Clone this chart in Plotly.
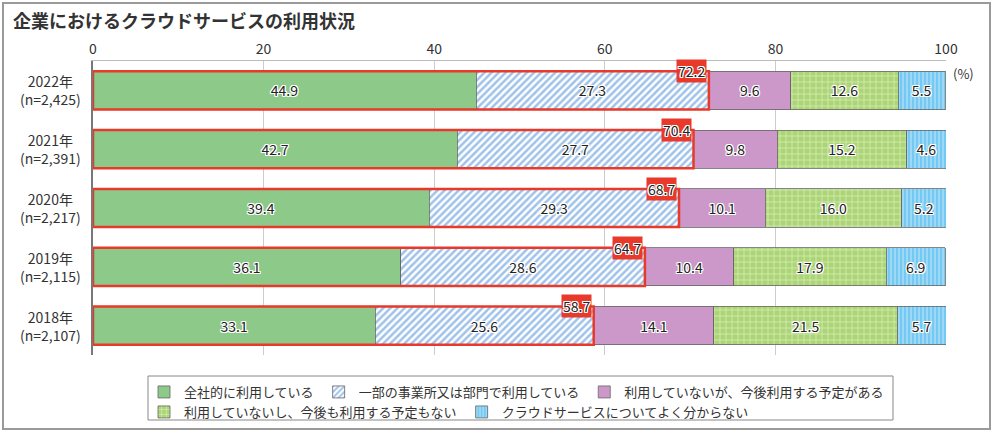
import plotly.graph_objects as go

years = ["2022年", "2021年", "2020年", "2019年", "2018年"]
samples = ["(n=2,425)", "(n=2,391)", "(n=2,217)", "(n=2,115)", "(n=2,107)"]
series_names = [
    "全社的に利用している",
    "一部の事業所又は部門で利用している",
    "利用していないが、今後利用する予定がある",
    "利用していないし、今後も利用する予定もない",
    "クラウドサービスについてよく分からない",
]
whole_company = [44.9, 42.7, 39.4, 36.1, 33.1]
some_depts = [27.3, 27.7, 29.3, 28.6, 25.6]
plan_to_use = [9.6, 9.8, 10.1, 10.4, 14.1]
no_plan = [12.6, 15.2, 16.0, 17.9, 21.5]
unknown = [5.5, 4.6, 5.2, 6.9, 5.7]
totals = [72.2, 70.4, 68.7, 64.7, 58.7]
x_ticks = [0, 20, 40, 60, 80, 100]

FONT = "Noto Sans CJK JP"
HALO = "-1px -1px 0 #fff, 1px -1px 0 #fff, -1px 1px 0 #fff, 1px 1px 0 #fff, 0 1px 0 #fff, 0 -1px 0 #fff, 1px 0 0 #fff, -1px 0 0 #fff"
RED = "#e8392a"
W, H = 995, 436
L, R, T, B = 93, 49, 61, 81
PW, PH = W - L - R, H - T - B


def px(x):
    return (x - L) / PW


def py(y):
    return (H - B - y) / PH


ypos = list(range(len(years)))
values = [whole_company, some_depts, plan_to_use, no_plan, unknown]
styles = [
    dict(color="#8dca8a"),
    dict(color="#ffffff", pattern=dict(shape="/", fgcolor="#3f86d6", bgcolor="#ffffff", size=5, solidity=0.5)),
    dict(color="#cc97c9"),
    dict(color="#acd676", pattern=dict(shape="+", fgcolor="#ffffff", bgcolor="#acd676", size=6, solidity=0.25)),
    dict(color="#73c9f2", pattern=dict(shape="|", fgcolor="#ffffff", bgcolor="#73c9f2", size=4, solidity=0.3)),
]
legend_ids = ["legend", "legend", "legend", "legend2", "legend2"]

fig = go.Figure()
BW = 0.65
for name, vals, st, lg in zip(series_names, values, styles, legend_ids):
    marker = dict(st)
    marker["line"] = dict(color="#666666", width=0.8)
    fig.add_trace(go.Bar(
        y=ypos, x=vals, name=name, orientation="h", width=BW,
        marker=marker, legend=lg,
        text=[f"{v:.1f}" for v in vals], textposition="inside",
        insidetextanchor="middle", textangle=0, constraintext="none",
        textfont=dict(family=FONT, size=14, color="#222222", shadow=HALO),
        hoverinfo="skip",
    ))

shapes = []
annotations = []
for i, (t, yr, n) in enumerate(zip(totals, years, samples)):
    shapes.append(dict(type="rect", xref="x", yref="y", x0=0, x1=t,
                       y0=i - BW / 2, y1=i + BW / 2,
                       line=dict(color=RED, width=2.5), layer="above"))
    annotations.append(dict(x=t, y=i - BW / 2, xref="x", yref="y", text=f"{t:.1f}",
                            showarrow=False, xanchor="right", yanchor="middle", xshift=-2,
                            bgcolor=RED, borderpad=1,
                            font=dict(family=FONT, size=14, color="#222222", shadow=HALO)))
    annotations.append(dict(x=px(50), y=i, xref="paper", yref="y", text=f"{yr}<br>{n}",
                            showarrow=False, xanchor="center", yanchor="middle", align="center",
                            font=dict(family=FONT, size=14, color="#333333")))

annotations.append(dict(x=1.0, y=1.0, xref="paper", yref="paper", text="(%)", showarrow=False,
                        xanchor="left", yanchor="top", xshift=5, yshift=-1,
                        font=dict(family=FONT, size=13, color="#333333")))
annotations.append(dict(x=px(11), y=py(20), xref="paper", yref="paper",
                        text="<b>企業におけるクラウドサービスの利用状況</b>", showarrow=False,
                        xanchor="left", yanchor="middle",
                        font=dict(family=FONT, size=18, color="#333333")))

# outer border
shapes.append(dict(type="rect", xref="paper", yref="paper",
                   x0=px(3), x1=px(990), y0=py(429), y1=py(3),
                   line=dict(color="#9a9a9a", width=2), layer="below"))
# legend box
shapes.append(dict(type="rect", xref="paper", yref="paper",
                   x0=px(148), x1=px(893), y0=py(420), y1=py(376),
                   line=dict(color="#888888", width=1), layer="below"))

leg_common = dict(orientation="h", xref="container", yref="container",
                  xanchor="left", yanchor="top", traceorder="normal",
                  borderwidth=0, bgcolor="rgba(0,0,0,0)",
                  font=dict(family=FONT, size=13, color="#333333"),
                  itemclick=False, itemdoubleclick=False)

fig.update_layout(
    width=W, height=H,
    margin=dict(l=L, r=R, t=T, b=B, autoexpand=False),
    barmode="stack",
    paper_bgcolor="white", plot_bgcolor="white",
    font=dict(family=FONT, size=13, color="#333333"),
    shapes=shapes, annotations=annotations,
    showlegend=True,
    legend=dict(x=144 / W, y=1 - 377 / H, **leg_common),
    legend2=dict(x=144 / W, y=1 - 397 / H, **leg_common),
    xaxis=dict(side="top", range=[0, 100], tickvals=x_ticks, ticks="",
               showgrid=True, gridcolor="#cccccc", gridwidth=1,
               showline=True, linecolor="#bbbbbb", linewidth=1, zeroline=False,
               tickfont=dict(family=FONT, size=14, color="#333333"), fixedrange=True),
    yaxis=dict(range=[len(years) - 0.5, -0.5], showticklabels=False, showgrid=False,
               showline=True, linecolor="#777777", linewidth=1.5, zeroline=False,
               ticks="", fixedrange=True),
)

fig.write_html("out.html", post_script="document.body.style.margin='0';",
               config={"displayModeBar": False})
